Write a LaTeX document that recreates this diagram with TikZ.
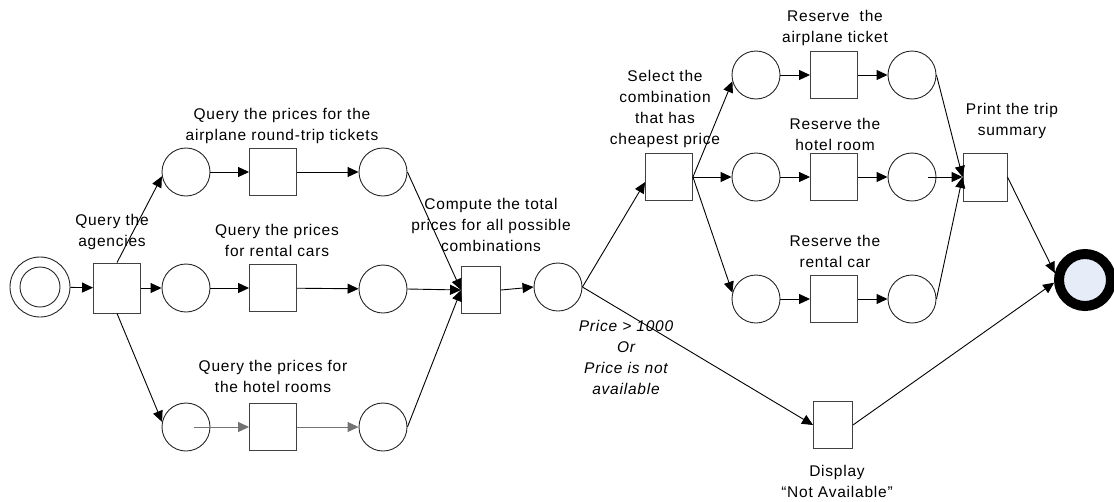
\documentclass[tikz,border=0pt]{standalone}
\usepackage{fontspec}
\setmainfont{Liberation Sans}
\newfontfamily\lblfont[LetterSpace=5]{Liberation Sans}
\usetikzlibrary{arrows.meta}
\definecolor{endfill}{HTML}{E6ECF8}
\tikzset{
  place/.style={circle,draw=black!85,line width=0.9pt,minimum size=48pt,inner sep=0pt},
  trans/.style={rectangle,draw=black!75,line width=0.9pt,minimum width=47pt,minimum height=47pt,inner sep=0pt},
  narrow/.style={trans,minimum width=39pt},
  lbl/.style={align=center,inner sep=0pt,font=\lblfont\fontsize{15.5}{21}\selectfont},
  cond/.style={lbl,font=\lblfont\itshape\fontsize{15.5}{21}\selectfont},
  conn/.style={draw=black,line width=0.9pt,-{Triangle[length=11pt,width=10pt]}},
  faint/.style={conn,draw=black!55}
}
\begin{document}
\begin{tikzpicture}[x=1pt,y=-1pt]
\useasboundingbox (0,0) rectangle (1114,501);

% start and end places
\node[circle,draw=black!85,line width=0.9pt,minimum size=60pt,inner sep=0pt] (start) at (40,287) {};
\node[circle,draw=black!85,line width=0.9pt,minimum size=40pt,inner sep=0pt] (startin) at (40,287) {};
\node[circle,draw=black,fill=endfill,line width=10pt,minimum size=52pt,inner sep=0pt] (fin) at (1085,280) {};

% query stage
\node[trans,minimum height=50pt] (tag) at (117,288) {};
\node[place] (pai1) at (186,172) {};
\node[trans] (tair) at (273,172) {};
\node[place] (pai2) at (383,172) {};
\node[place] (pc1) at (186,288) {};
\node[trans] (tcar) at (273,288) {};
\node[place] (pc2) at (383,289) {};
\node[place] (ph1) at (186,427) {};
\node[trans] (thot) at (273,427) {};
\node[place] (ph2) at (383,427) {};

% combination stage
\node[narrow] (tcomp) at (481,290) {};
\node[place] (pcomb) at (558,287) {};
\node[trans] (tsel) at (669,177) {};
\node[narrow] (tdisp) at (833,425) {};

% reservation stage
\node[place] (pra1) at (756,75) {};
\node[trans] (tra) at (834,75) {};
\node[place] (pra2) at (912,75) {};
\node[place] (prh1) at (756,177) {};
\node[trans] (trh) at (834,177) {};
\node[place] (prh2) at (912,177) {};
\node[place] (prc1) at (756,299) {};
\node[trans] (trc) at (834,299) {};
\node[place] (prc2) at (912,299) {};
\node[trans,minimum width=44pt,minimum height=48pt] (tprint) at (985,177) {};

% labels
\node[lbl] (lag) at (112,232) {Query the\\agencies};
\node[lbl] (lair) at (282,125.5) {Query the prices for the\\airplane round-trip tickets};
\node[lbl] (lcar) at (277,240) {Query the prices\\for rental cars};
\node[lbl] (lhot) at (273,376) {Query the prices for\\the hotel rooms};
\node[lbl] (lcomp) at (491,224.5) {Compute the total\\prices for all possible\\combinations};
\node[lbl] (lsel) at (665,108.5) {Select the\\combination\\that has\\cheapest price};
\node[lbl] (lra) at (835,27.5) {Reserve\ \ the\\airplane ticket};
\node[lbl] (lrh) at (835,134.5) {Reserve the\\hotel room};
\node[lbl] (lrc) at (835,251) {Reserve the\\rental car};
\node[lbl] (lprint) at (1012,121) {Print the trip\\summary};
\node[lbl] (ldisp) at (837,481) {Display\\“Not Available”};
\node[cond] (lcond) at (626,357) {Price > 1000\\Or\\Price is not\\available};

% connectors
\draw[conn] (start) -- (tag);
\draw[conn] (tag.north) -- (pai1.190);
\draw[conn] (tag) -- (pc1);
\draw[conn] (tag.south) -- (ph1.168);
\draw[conn] (pai1) -- (tair);
\draw[conn] (tair) -- (pai2);
\draw[conn] (pc1) -- (tcar);
\draw[conn] (tcar) -- (pc2);
\draw[faint] ([xshift=8pt]ph1.center) -- (thot);
\draw[faint] (thot) -- (ph2);
\draw[conn] (pai2.east) -- (tcomp.west);
\draw[conn] (pc2.east) -- (tcomp.west);
\draw[conn] (ph2.east) -- (tcomp.west);
\draw[conn] (tcomp.east) -- (pcomb.west);
\draw[conn] (pcomb.east) -- (tsel.192);
\draw[conn] (pcomb.east) -- (tdisp.west);
\draw[conn] (tsel.east) -- (pra1.195);
\draw[conn] (tsel.east) -- (prh1.west);
\draw[conn] (tsel.east) -- (prc1.165);
\draw[conn] (pra1) -- (tra);
\draw[conn] (tra) -- (pra2);
\draw[conn] (prh1) -- (trh);
\draw[conn] (trh) -- (prh2);
\draw[conn] (prc1) -- (trc);
\draw[conn] (trc) -- (prc2);
\draw[conn] (pra2.east) -- (tprint.west);
\draw[conn] ([xshift=16pt]prh2.center) -- (tprint.west);
\draw[conn] (prc2.east) -- (tprint.west);
\draw[conn] (tprint.east) -- (fin.167);
\draw[conn] (tdisp.east) -- (fin.185);
\end{tikzpicture}
\end{document}
